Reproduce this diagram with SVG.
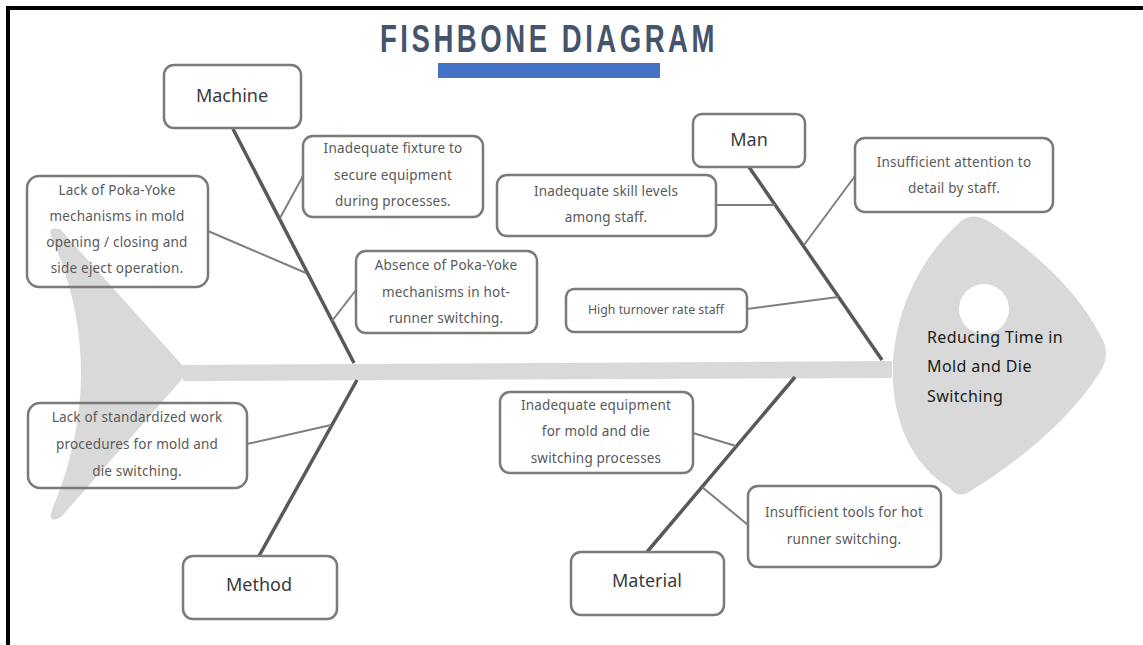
<svg xmlns="http://www.w3.org/2000/svg" width="1143" height="645" viewBox="0 0 1143 645">
<style>
.box{fill:none;stroke:#7a7a7a;stroke-width:2.5}
.bone{stroke:#595959;stroke-width:3.5;stroke-linecap:butt;fill:none}
.link{stroke:#7f7f7f;stroke-width:2;fill:none}
.cat{font-family:"Noto Sans","Liberation Sans",sans-serif;font-size:18px;fill:#3a3a3a;text-anchor:middle}
.cause{font-family:"Noto Sans","Liberation Sans",sans-serif;font-size:13.5px;letter-spacing:0.2px;fill:#595959;text-anchor:middle}
.head{font-family:"Noto Sans","Liberation Sans",sans-serif;font-size:16px;letter-spacing:0.4px;fill:#1a1a1a}
</style>
<rect width="1143" height="645" fill="#fff"/>
<!-- frame -->
<line x1="6" y1="8" x2="1143" y2="8" stroke="#000" stroke-width="4"/>
<line x1="8" y1="6" x2="8" y2="645" stroke="#000" stroke-width="4"/>
<!-- title -->
<g id="title">
<text x="380" y="52" font-family="'Liberation Sans Narrow','Liberation Sans',sans-serif" font-weight="bold" font-size="39" fill="#44546a" letter-spacing="5" textLength="338" lengthAdjust="spacingAndGlyphs">FISHBONE DIAGRAM</text>
<rect x="438" y="63" width="222" height="15" fill="#4472c4"/>
</g>
<!-- fish body -->
<g id="fish">
<path d="M52,238 Q46,226 60,229 L183,366 L183,378 L62,516 Q47,526 52,510 Q110,372 52,238 Z" fill="#d9d9d9"/>
<polygon points="183,365 892,361 892,378 183,381" fill="#d9d9d9"/>
</g>
<g id="head">
<path d="M958,224 Q970,210 990,222 C1040,255 1080,295 1100,335 Q1112,353 1100,372 C1070,420 1020,460 972,490 Q958,500 950,488 C870,440 875,300 958,224 Z" fill="#d9d9d9"/>
<circle cx="984" cy="309" r="25" fill="#fff"/>
<text class="head" x="927" y="343">Reducing Time in</text>
<text class="head" x="927" y="372">Mold and Die</text>
<text class="head" x="927" y="402">Switching</text>
</g>
<!-- connectors -->
<g id="connectors">
<line class="bone" x1="233" y1="129" x2="354" y2="363"/>
<line class="bone" x1="749" y1="167" x2="882" y2="360"/>
<line class="bone" x1="259" y1="556" x2="357" y2="380"/>
<line class="bone" x1="647" y1="552" x2="795" y2="377"/>
<line class="link" x1="303" y1="176" x2="280" y2="218"/>
<line class="link" x1="208" y1="231" x2="306" y2="273"/>
<line class="link" x1="356" y1="290" x2="332" y2="321"/>
<line class="link" x1="716" y1="205" x2="775" y2="205"/>
<line class="link" x1="855" y1="176" x2="804" y2="245"/>
<line class="link" x1="747" y1="309" x2="838" y2="297"/>
<line class="link" x1="247" y1="444" x2="331" y2="425"/>
<line class="link" x1="693" y1="433" x2="736" y2="446"/>
<line class="link" x1="748" y1="525" x2="702" y2="487"/>
</g>
<!-- categories -->
<g id="machine">
<rect class="box" x="164" y="65" width="137" height="63" rx="10"/>
<text class="cat" x="232" y="102">Machine</text>
</g>
<g id="man">
<rect class="box" x="693" y="114" width="112" height="53" rx="9"/>
<text class="cat" x="749" y="146">Man</text>
</g>
<g id="method">
<rect class="box" x="183" y="556" width="154" height="63" rx="10"/>
<text class="cat" x="259" y="591">Method</text>
</g>
<g id="material">
<rect class="box" x="571" y="552" width="153" height="63" rx="10"/>
<text class="cat" x="647" y="587">Material</text>
</g>
<!-- causes -->
<g id="fixture">
<rect class="box" x="303" y="136" width="180" height="81" rx="10"/>
<text class="cause" x="393" y="153">Inadequate fixture to</text>
<text class="cause" x="393" y="180">secure equipment</text>
<text class="cause" x="393" y="206">during processes.</text>
</g>
<g id="pokayoke-mold">
<rect class="box" x="27" y="176" width="181" height="111" rx="12"/>
<text class="cause" x="117" y="195">Lack of Poka-Yoke</text>
<text class="cause" x="117" y="221">mechanisms in mold</text>
<text class="cause" x="117" y="247">opening / closing and</text>
<text class="cause" x="117" y="273">side eject operation.</text>
</g>
<g id="pokayoke-hot">
<rect class="box" x="356" y="251" width="181" height="82" rx="10"/>
<text class="cause" x="446" y="270">Absence of Poka-Yoke</text>
<text class="cause" x="446" y="297">mechanisms in hot-</text>
<text class="cause" x="446" y="323">runner switching.</text>
</g>
<g id="skill">
<rect class="box" x="497" y="175" width="219" height="61" rx="10"/>
<text class="cause" x="606" y="196">Inadequate skill levels</text>
<text class="cause" x="606" y="222">among staff.</text>
</g>
<g id="attention">
<rect class="box" x="855" y="138" width="198" height="74" rx="10"/>
<text class="cause" x="954" y="167">Insufficient attention to</text>
<text class="cause" x="954" y="193">detail by staff.</text>
</g>
<g id="turnover">
<rect class="box" x="566" y="289" width="181" height="43" rx="8"/>
<text class="cause" x="656" y="314" style="font-size:12.3px;letter-spacing:0">High turnover rate staff</text>
</g>
<g id="standardized">
<rect class="box" x="28" y="403" width="219" height="85" rx="12"/>
<text class="cause" x="137" y="422">Lack of standardized work</text>
<text class="cause" x="137" y="449">procedures for mold and</text>
<text class="cause" x="137" y="476">die switching.</text>
</g>
<g id="equipment">
<rect class="box" x="500" y="392" width="193" height="81" rx="10"/>
<text class="cause" x="596" y="410">Inadequate equipment</text>
<text class="cause" x="596" y="436">for mold and die</text>
<text class="cause" x="596" y="463">switching processes</text>
</g>
<g id="tools">
<rect class="box" x="748" y="486" width="193" height="81" rx="10"/>
<text class="cause" x="844" y="517">Insufficient tools for hot</text>
<text class="cause" x="844" y="544">runner switching.</text>
</g>
</svg>
